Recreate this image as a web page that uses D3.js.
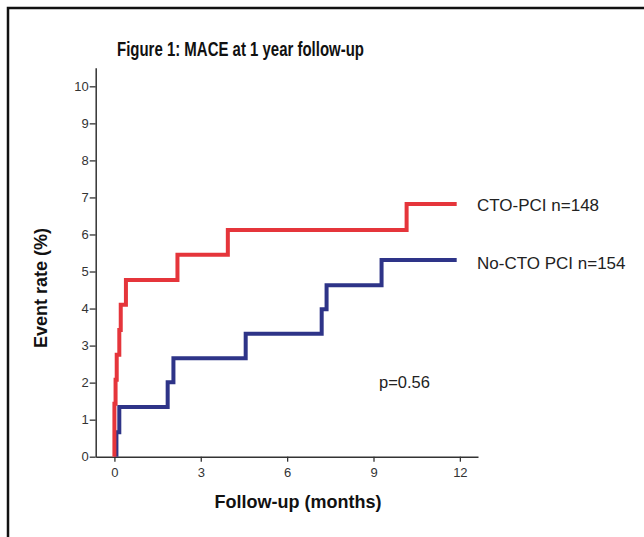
<!DOCTYPE html>
<html>
<head>
<meta charset="utf-8">
<script src="https://cdn.jsdelivr.net/npm/d3@7"></script>
<style>
  html, body { margin: 0; padding: 0; background: #fff; }
  svg { display: block; }
  text { font-family: "Liberation Sans", Arial, Helvetica, sans-serif; }
</style>
</head>
<body>
<svg id="chart" width="644" height="537"></svg>
<script>
// ---- data ----
const xTicks = [0, 3, 6, 9, 12];
const yTicks = [0, 1, 2, 3, 4, 5, 6, 7, 8, 9, 10];

const ctoTimes = [0, 0, 0.04, 0.08, 0.17, 0.22, 0.40, 2.19, 3.94, 10.15, 11.89];
const ctoRates = [0, 1.43, 2.08, 2.75, 3.42, 4.10, 4.77, 5.45, 6.12, 6.82, 6.82];

const noCtoTimes = [0.07, 0.07, 0.17, 1.85, 2.05, 4.56, 7.20, 7.37, 9.28, 11.89];
const noCtoRates = [0, 0.66, 1.34, 2.01, 2.66, 3.32, 3.98, 4.63, 5.31, 5.31];

const seriesNames = ["CTO-PCI n=148", "No-CTO PCI n=154"];
const titleText = "Figure 1: MACE at 1 year follow-up";
const xLabel = "Follow-up (months)";
const yLabel = "Event rate (%)";
const pText = "p=0.56";

// ---- drawing ----
const svg = d3.select("#chart");

// frame
svg.append("path")
  .attr("d", "M8,540 L8,8 L650,8")
  .attr("fill", "none")
  .attr("stroke", "#111")
  .attr("stroke-width", 2.5);

const x = d3.scaleLinear().domain([-0.65, 12.63]).range([95.7, 478]);
const y = d3.scaleLinear().domain([0, 10.5]).range([456.7, 67.8]);

// x axis
const gx = svg.append("g").attr("transform", `translate(0,${y(0)})`)
  .call(d3.axisBottom(x).tickValues(xTicks).tickSize(5).tickSizeOuter(0).tickPadding(6));
// y axis
const gy = svg.append("g").attr("transform", `translate(${x(-0.65)},0)`)
  .call(d3.axisLeft(y).tickValues(yTicks).tickSize(6).tickSizeOuter(0).tickPadding(1));

[gx, gy].forEach(g => {
  g.attr("font-size", 13).attr("font-family", "'Liberation Sans', Arial, sans-serif");
  g.select(".domain").attr("stroke", "#333").attr("stroke-width", 1.5);
  g.selectAll(".tick line").attr("stroke", "#333").attr("stroke-width", 1.3);
  g.selectAll(".tick text").attr("fill", "#333");
});

// lines
const line = d3.line()
  .x(d => x(d[0]))
  .y(d => y(d[1]))
  .curve(d3.curveStepAfter);

const ctoData = ctoTimes.map((t, i) => [t, ctoRates[i]]);
const noCtoData = noCtoTimes.map((t, i) => [t, noCtoRates[i]]);

svg.append("path").datum(noCtoData)
  .attr("d", line)
  .attr("fill", "none")
  .attr("stroke", "#2e3488")
  .attr("stroke-width", 4);

svg.append("path").datum(ctoData)
  .attr("d", line)
  .attr("fill", "none")
  .attr("stroke", "#e5353b")
  .attr("stroke-width", 4);

// legend labels
svg.append("text").attr("x", 477).attr("y", 210.5)
  .style("font-size", "17px").attr("fill", "#222").text(seriesNames[0]);
svg.append("text").attr("x", 477).attr("y", 269)
  .style("font-size", "17px").attr("fill", "#222").text(seriesNames[1]);

// p value
svg.append("text").attr("x", 379).attr("y", 388)
  .style("font-size", "16.5px").attr("fill", "#222").text(pText);

// title
svg.append("text").attr("x", 117).attr("y", 55.5)
  .attr("textLength", 247).attr("lengthAdjust", "spacingAndGlyphs")
  .style("font-size", "19.5px").style("font-weight", "bold").attr("fill", "#111")
  .text(titleText);

// axis labels
svg.append("text").attr("x", 298).attr("y", 508)
  .attr("text-anchor", "middle")
  .style("font-size", "18px").style("font-weight", "bold").attr("fill", "#111")
  .text(xLabel);

svg.append("text")
  .attr("transform", "translate(47,288) rotate(-90)")
  .attr("text-anchor", "middle")
  .style("font-size", "18px").style("font-weight", "bold").attr("fill", "#111")
  .text(yLabel);
</script>
</body>
</html>
